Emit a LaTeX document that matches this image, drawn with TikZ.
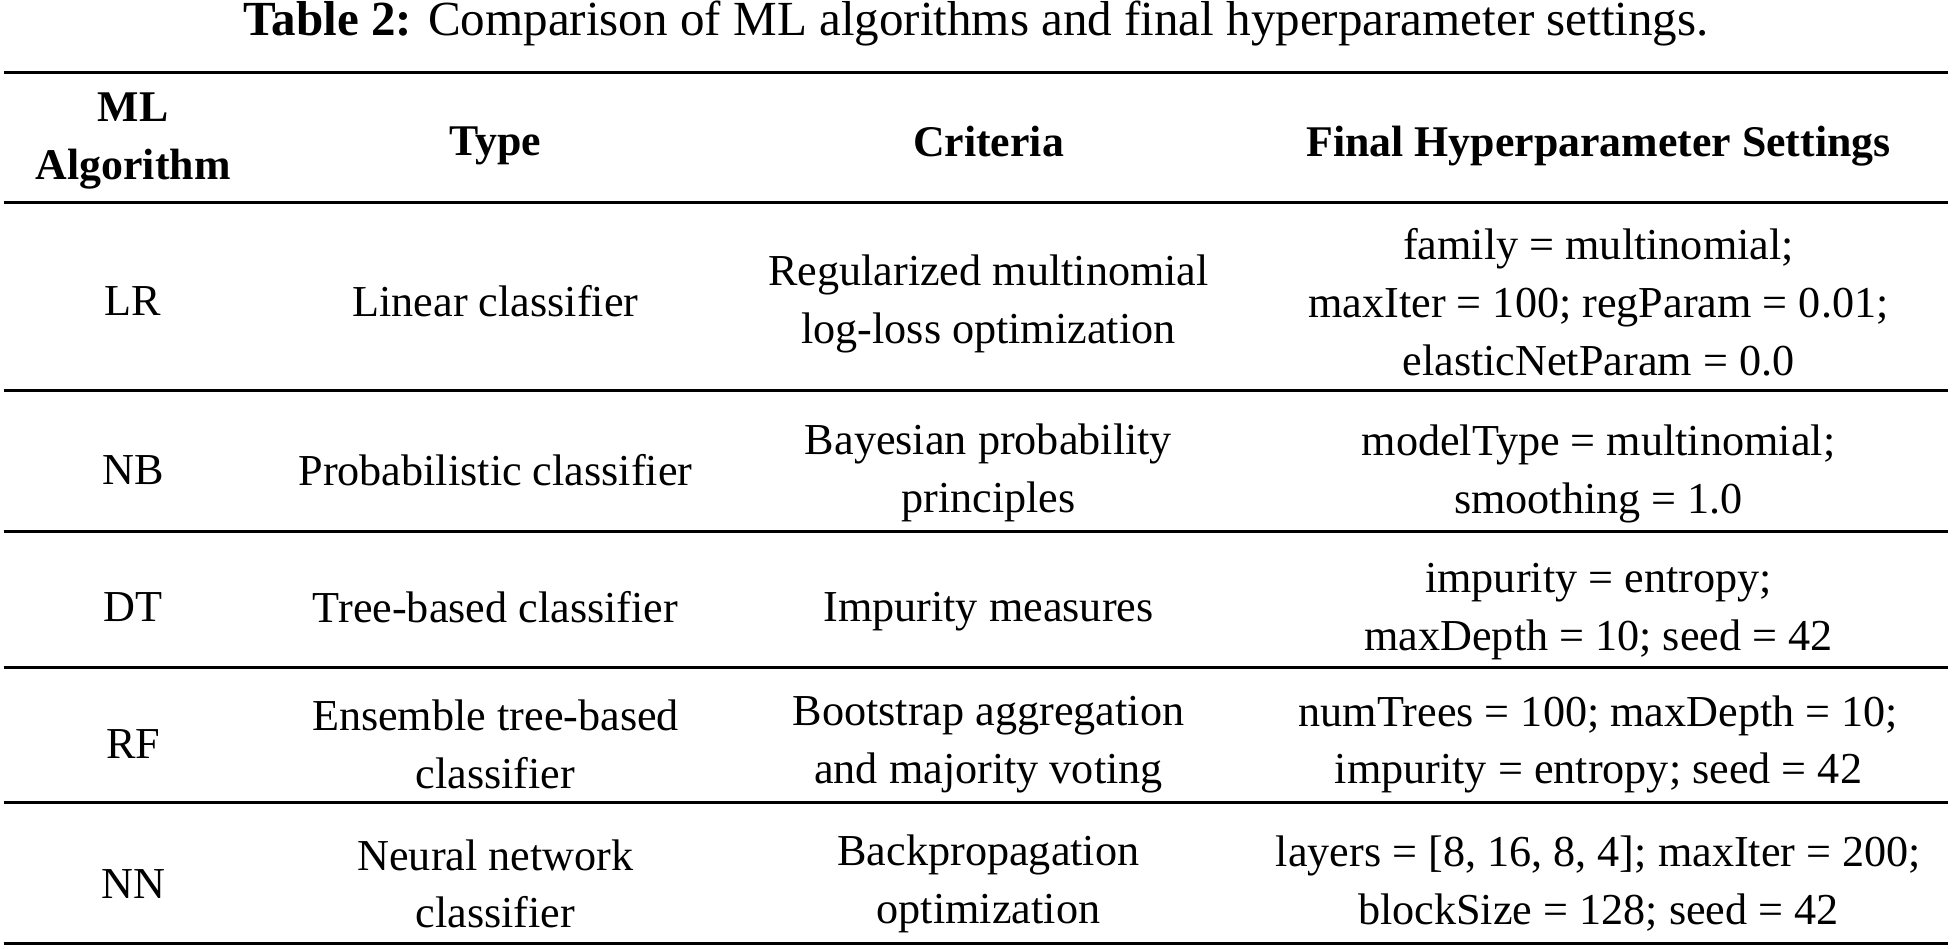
\documentclass[tikz,border=0pt]{standalone}
\usepackage{fontspec}
\setmainfont{Liberation Serif}
\begin{document}
\begin{tikzpicture}[x=1pt,y=-1pt,
  cell/.style={inner sep=0pt, align=center, font=\fontsize{35.5}{46.5}\selectfont},
  headcell/.style={cell, font=\fontsize{35.2}{46.5}\selectfont\bfseries},
  rulestyle/.style={line width=2.4pt, black}]
\useasboundingbox (0,0) rectangle (1568,762);
% title
\node[inner sep=0pt, font=\fontsize{39.4}{46}\selectfont] (title) at (784,19) {\textbf{Table 2:} Comparison of ML algorithms and final hyperparameter settings.};
% rules
\coordinate (r0l) at (3,58);   \coordinate (r0r) at (1565,58);
\coordinate (r1l) at (3,163);  \coordinate (r1r) at (1565,163);
\coordinate (r2l) at (3,314);  \coordinate (r2r) at (1565,314);
\coordinate (r3l) at (3,427);  \coordinate (r3r) at (1565,427);
\coordinate (r4l) at (3,536);  \coordinate (r4r) at (1565,536);
\coordinate (r5l) at (3,645);  \coordinate (r5r) at (1565,645);
\coordinate (r6l) at (3,758);  \coordinate (r6r) at (1565,758);
\foreach \i in {0,...,6} \draw[rulestyle] (r\i l) -- (r\i r);
% header
\node[headcell] (h1) at (107,113) {ML\\Algorithm};
\node[headcell] (h2) at (398,117) {Type};
\node[headcell] (h3) at (794,114) {Criteria};
\node[headcell] (h4) at (1284,117) {Final Hyperparameter Settings};
% LR
\node[cell] (a1) at (107,242) {LR};
\node[cell] (a2) at (398,242) {Linear classifier};
\node[cell] (a3) at (794,244) {Regularized multinomial\\log-loss optimization};
\node[cell] (a4) at (1284,243) {family = multinomial;\\maxIter = 100; regParam = 0.01;\\elasticNetParam = 0.0};
% NB
\node[cell] (b1) at (107,378) {NB};
\node[cell] (b2) at (398,378) {Probabilistic classifier};
\node[cell] (b3) at (794,380) {Bayesian probability\\principles};
\node[cell] (b4) at (1284,381) {modelType = multinomial;\\smoothing = 1.0};
% DT
\node[cell] (c1) at (107,488) {DT};
\node[cell] (c2) at (398,488) {Tree-based classifier};
\node[cell] (c3) at (794,491) {Impurity measures};
\node[cell] (c4) at (1284,491) {impurity = entropy;\\maxDepth = 10; seed = 42};
% RF
\node[cell] (d1) at (107,598) {RF};
\node[cell] (d2) at (398,598) {Ensemble tree-based\\classifier};
\node[cell] (d3) at (794,598) {Bootstrap aggregation\\and majority voting};
\node[cell] (d4) at (1284,598) {numTrees = 100; maxDepth = 10;\\impurity = entropy; seed = 42};
% NN
\node[cell] (e1) at (107,710) {NN};
\node[cell] (e2) at (398,710) {Neural network\\classifier};
\node[cell] (e3) at (794,710) {Backpropagation\\optimization};
\node[cell] (e4) at (1284,710) {layers = [8, 16, 8, 4]; maxIter = 200;\\blockSize = 128; seed = 42};
\end{tikzpicture}
\end{document}
